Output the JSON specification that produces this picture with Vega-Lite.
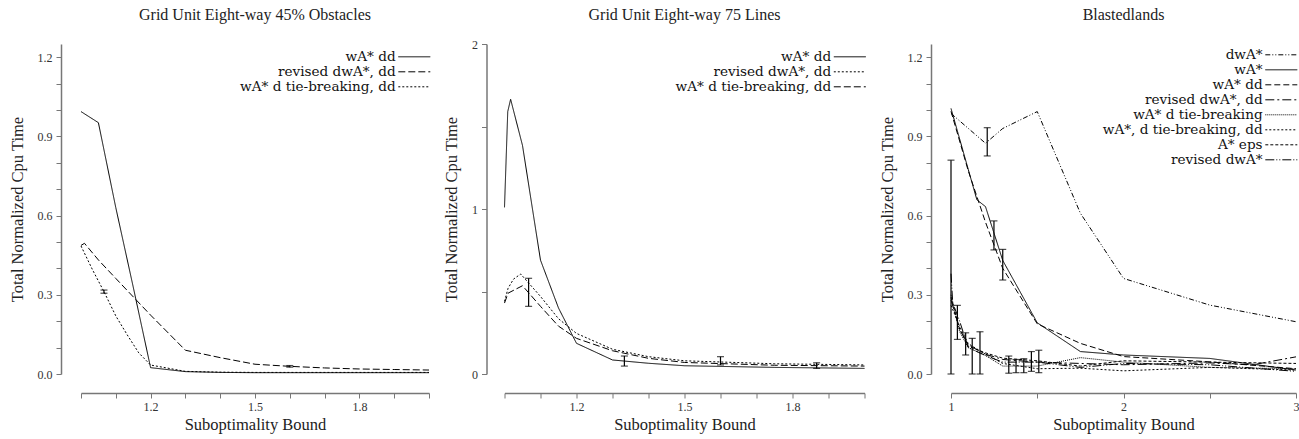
{
  "$schema": "https://vega.github.io/schema/vega-lite/v6.json",
  "padding": {"left": 9, "top": 6, "right": 3, "bottom": 3},
  "spacing": 10.5,
  "config": {
    "font": "Liberation Serif",
    "view": {"stroke": null},
    "axis": {"grid": false, "domainColor": "#777", "domainWidth": 1.5, "tickColor": "#777", "tickSize": 5, "labelFontSize": 12, "labelColor": "#333", "labelFont": "Liberation Serif", "titleFont": "Liberation Serif", "titleFontSize": 16.5, "titleFontWeight": "normal", "titleColor": "#222", "labelOverlap": false, "labelFlush": false},
    "axisY": {"offset": 20, "titlePadding": 12, "labelPadding": 4},
    "axisX": {"offset": 19, "titlePadding": 4, "labelPadding": 3},
    "title": {"font": "Liberation Serif", "fontSize": 16, "fontWeight": "normal", "color": "#222", "offset": 21, "frame": "group"},
    "legend": {"orient": "none", "title": null, "padding": 0, "symbolType": "M-3.2,0H3.2", "symbolSize": 100, "symbolStrokeWidth": 1, "symbolStrokeColor": "black", "labelAlign": "right", "labelOffset": -25.5, "labelFont": "DejaVu Serif", "labelFontSize": 13.6, "labelColor": "#111", "labelLimit": 400, "rowPadding": 0}
  },
  "resolve": {"scale": {"strokeDash": "independent"}, "legend": {"strokeDash": "independent"}},
  "datasets": {
    "p1": [
      {"s": "wA* dd", "x": 1.0, "y": 0.994}, {"s": "wA* dd", "x": 1.05, "y": 0.952}, {"s": "wA* dd", "x": 1.1, "y": 0.63}, {"s": "wA* dd", "x": 1.15, "y": 0.33}, {"s": "wA* dd", "x": 1.2, "y": 0.024}, {"s": "wA* dd", "x": 1.3, "y": 0.009}, {"s": "wA* dd", "x": 1.4, "y": 0.006}, {"s": "wA* dd", "x": 1.5, "y": 0.005}, {"s": "wA* dd", "x": 1.6, "y": 0.005}, {"s": "wA* dd", "x": 1.7, "y": 0.005}, {"s": "wA* dd", "x": 1.8, "y": 0.005}, {"s": "wA* dd", "x": 1.9, "y": 0.005}, {"s": "wA* dd", "x": 2.0, "y": 0.005},
      {"s": "revised dwA*, dd", "x": 1.0, "y": 0.487}, {"s": "revised dwA*, dd", "x": 1.01, "y": 0.495}, {"s": "revised dwA*, dd", "x": 1.05, "y": 0.432}, {"s": "revised dwA*, dd", "x": 1.1, "y": 0.362}, {"s": "revised dwA*, dd", "x": 1.2, "y": 0.223}, {"s": "revised dwA*, dd", "x": 1.3, "y": 0.09}, {"s": "revised dwA*, dd", "x": 1.4, "y": 0.062}, {"s": "revised dwA*, dd", "x": 1.5, "y": 0.037}, {"s": "revised dwA*, dd", "x": 1.6, "y": 0.029}, {"s": "revised dwA*, dd", "x": 1.7, "y": 0.023}, {"s": "revised dwA*, dd", "x": 1.8, "y": 0.019}, {"s": "revised dwA*, dd", "x": 1.9, "y": 0.017}, {"s": "revised dwA*, dd", "x": 2.0, "y": 0.015},
      {"s": "wA* d tie-breaking, dd", "x": 1.0, "y": 0.485}, {"s": "wA* d tie-breaking, dd", "x": 1.033, "y": 0.395}, {"s": "wA* d tie-breaking, dd", "x": 1.066, "y": 0.312}, {"s": "wA* d tie-breaking, dd", "x": 1.1, "y": 0.22}, {"s": "wA* d tie-breaking, dd", "x": 1.133, "y": 0.148}, {"s": "wA* d tie-breaking, dd", "x": 1.166, "y": 0.08}, {"s": "wA* d tie-breaking, dd", "x": 1.2, "y": 0.034}, {"s": "wA* d tie-breaking, dd", "x": 1.3, "y": 0.01}, {"s": "wA* d tie-breaking, dd", "x": 1.4, "y": 0.007}, {"s": "wA* d tie-breaking, dd", "x": 1.5, "y": 0.006}, {"s": "wA* d tie-breaking, dd", "x": 1.6, "y": 0.006}, {"s": "wA* d tie-breaking, dd", "x": 1.8, "y": 0.006}, {"s": "wA* d tie-breaking, dd", "x": 2.0, "y": 0.006}
    ],
    "e1": [{"x": 1.066, "lo": 0.306, "hi": 0.318}, {"x": 1.6, "lo": 0.026, "hi": 0.032}],
    "p2": [
      {"s": "wA* dd", "x": 1.0, "y": 1.01}, {"s": "wA* dd", "x": 1.009, "y": 1.59}, {"s": "wA* dd", "x": 1.017, "y": 1.665}, {"s": "wA* dd", "x": 1.05, "y": 1.385}, {"s": "wA* dd", "x": 1.1, "y": 0.69}, {"s": "wA* dd", "x": 1.15, "y": 0.4}, {"s": "wA* dd", "x": 1.2, "y": 0.186}, {"s": "wA* dd", "x": 1.3, "y": 0.085}, {"s": "wA* dd", "x": 1.4, "y": 0.065}, {"s": "wA* dd", "x": 1.5, "y": 0.05}, {"s": "wA* dd", "x": 1.75, "y": 0.04}, {"s": "wA* dd", "x": 2.0, "y": 0.034},
      {"s": "revised dwA*, dd", "x": 1.0, "y": 0.44}, {"s": "revised dwA*, dd", "x": 1.01, "y": 0.52}, {"s": "revised dwA*, dd", "x": 1.025, "y": 0.575}, {"s": "revised dwA*, dd", "x": 1.045, "y": 0.606}, {"s": "revised dwA*, dd", "x": 1.1, "y": 0.47}, {"s": "revised dwA*, dd", "x": 1.15, "y": 0.335}, {"s": "revised dwA*, dd", "x": 1.2, "y": 0.246}, {"s": "revised dwA*, dd", "x": 1.3, "y": 0.15}, {"s": "revised dwA*, dd", "x": 1.4, "y": 0.105}, {"s": "revised dwA*, dd", "x": 1.5, "y": 0.08}, {"s": "revised dwA*, dd", "x": 1.75, "y": 0.062}, {"s": "revised dwA*, dd", "x": 2.0, "y": 0.055},
      {"s": "wA* d tie-breaking, dd", "x": 1.0, "y": 0.43}, {"s": "wA* d tie-breaking, dd", "x": 1.01, "y": 0.49}, {"s": "wA* d tie-breaking, dd", "x": 1.05, "y": 0.535}, {"s": "wA* d tie-breaking, dd", "x": 1.1, "y": 0.41}, {"s": "wA* d tie-breaking, dd", "x": 1.15, "y": 0.29}, {"s": "wA* d tie-breaking, dd", "x": 1.2, "y": 0.216}, {"s": "wA* d tie-breaking, dd", "x": 1.3, "y": 0.141}, {"s": "wA* d tie-breaking, dd", "x": 1.4, "y": 0.095}, {"s": "wA* d tie-breaking, dd", "x": 1.5, "y": 0.07}, {"s": "wA* d tie-breaking, dd", "x": 1.75, "y": 0.053}, {"s": "wA* d tie-breaking, dd", "x": 2.0, "y": 0.048}
    ],
    "e2": [{"x": 1.067, "lo": 0.41, "hi": 0.58}, {"x": 1.333, "lo": 0.048, "hi": 0.109}, {"x": 1.6, "lo": 0.055, "hi": 0.105}, {"x": 1.867, "lo": 0.034, "hi": 0.068}],
    "p3": [
      {"s": "dwA*", "x": 1.0, "y": 0.987}, {"s": "dwA*", "x": 1.2, "y": 0.874}, {"s": "dwA*", "x": 1.3, "y": 0.93}, {"s": "dwA*", "x": 1.5, "y": 0.994}, {"s": "dwA*", "x": 1.75, "y": 0.609}, {"s": "dwA*", "x": 2.0, "y": 0.362}, {"s": "dwA*", "x": 2.5, "y": 0.261}, {"s": "dwA*", "x": 3.0, "y": 0.198},
      {"s": "wA*", "x": 1.0, "y": 1.006}, {"s": "wA*", "x": 1.1, "y": 0.775}, {"s": "wA*", "x": 1.15, "y": 0.66}, {"s": "wA*", "x": 1.2, "y": 0.634}, {"s": "wA*", "x": 1.3, "y": 0.43}, {"s": "wA*", "x": 1.5, "y": 0.194}, {"s": "wA*", "x": 1.75, "y": 0.085}, {"s": "wA*", "x": 2.0, "y": 0.072}, {"s": "wA*", "x": 2.5, "y": 0.059}, {"s": "wA*", "x": 3.0, "y": 0.015},
      {"s": "wA* dd", "x": 1.0, "y": 0.995}, {"s": "wA* dd", "x": 1.1, "y": 0.77}, {"s": "wA* dd", "x": 1.2, "y": 0.575}, {"s": "wA* dd", "x": 1.3, "y": 0.4}, {"s": "wA* dd", "x": 1.5, "y": 0.19}, {"s": "wA* dd", "x": 1.75, "y": 0.116}, {"s": "wA* dd", "x": 2.0, "y": 0.066}, {"s": "wA* dd", "x": 2.5, "y": 0.046}, {"s": "wA* dd", "x": 3.0, "y": 0.02},
      {"s": "revised dwA*, dd", "x": 1.0, "y": 0.28}, {"s": "revised dwA*, dd", "x": 1.05, "y": 0.17}, {"s": "revised dwA*, dd", "x": 1.1, "y": 0.11}, {"s": "revised dwA*, dd", "x": 1.2, "y": 0.075}, {"s": "revised dwA*, dd", "x": 1.3, "y": 0.055}, {"s": "revised dwA*, dd", "x": 1.5, "y": 0.045}, {"s": "revised dwA*, dd", "x": 1.75, "y": 0.04}, {"s": "revised dwA*, dd", "x": 2.0, "y": 0.035}, {"s": "revised dwA*, dd", "x": 2.5, "y": 0.042}, {"s": "revised dwA*, dd", "x": 2.75, "y": 0.035}, {"s": "revised dwA*, dd", "x": 3.0, "y": 0.065},
      {"s": "wA* d tie-breaking", "x": 1.0, "y": 0.3}, {"s": "wA* d tie-breaking", "x": 1.05, "y": 0.16}, {"s": "wA* d tie-breaking", "x": 1.1, "y": 0.1}, {"s": "wA* d tie-breaking", "x": 1.2, "y": 0.07}, {"s": "wA* d tie-breaking", "x": 1.3, "y": 0.03}, {"s": "wA* d tie-breaking", "x": 1.5, "y": 0.03}, {"s": "wA* d tie-breaking", "x": 1.75, "y": 0.062}, {"s": "wA* d tie-breaking", "x": 2.0, "y": 0.045}, {"s": "wA* d tie-breaking", "x": 2.5, "y": 0.025}, {"s": "wA* d tie-breaking", "x": 3.0, "y": 0.02},
      {"s": "wA*, d tie-breaking, dd", "x": 1.0, "y": 0.26}, {"s": "wA*, d tie-breaking, dd", "x": 1.05, "y": 0.18}, {"s": "wA*, d tie-breaking, dd", "x": 1.1, "y": 0.115}, {"s": "wA*, d tie-breaking, dd", "x": 1.2, "y": 0.075}, {"s": "wA*, d tie-breaking, dd", "x": 1.3, "y": 0.04}, {"s": "wA*, d tie-breaking, dd", "x": 1.5, "y": 0.02}, {"s": "wA*, d tie-breaking, dd", "x": 1.75, "y": 0.022}, {"s": "wA*, d tie-breaking, dd", "x": 2.0, "y": 0.012}, {"s": "wA*, d tie-breaking, dd", "x": 2.5, "y": 0.025}, {"s": "wA*, d tie-breaking, dd", "x": 3.0, "y": 0.015},
      {"s": "A* eps", "x": 1.0, "y": 0.29}, {"s": "A* eps", "x": 1.05, "y": 0.17}, {"s": "A* eps", "x": 1.1, "y": 0.105}, {"s": "A* eps", "x": 1.2, "y": 0.08}, {"s": "A* eps", "x": 1.3, "y": 0.06}, {"s": "A* eps", "x": 1.5, "y": 0.05}, {"s": "A* eps", "x": 1.75, "y": 0.03}, {"s": "A* eps", "x": 2.0, "y": 0.05}, {"s": "A* eps", "x": 2.5, "y": 0.045}, {"s": "A* eps", "x": 3.0, "y": 0.04},
      {"s": "revised dwA*", "x": 1.0, "y": 0.38}, {"s": "revised dwA*", "x": 1.01, "y": 0.27}, {"s": "revised dwA*", "x": 1.05, "y": 0.2}, {"s": "revised dwA*", "x": 1.1, "y": 0.1}, {"s": "revised dwA*", "x": 1.2, "y": 0.07}, {"s": "revised dwA*", "x": 1.3, "y": 0.045}, {"s": "revised dwA*", "x": 1.5, "y": 0.045}, {"s": "revised dwA*", "x": 1.75, "y": 0.025}, {"s": "revised dwA*", "x": 2.0, "y": 0.04}, {"s": "revised dwA*", "x": 2.5, "y": 0.035}, {"s": "revised dwA*", "x": 3.0, "y": 0.01}
    ],
    "e3": [{"x": 1.0, "lo": 0, "hi": 0.81}, {"x": 1.21, "lo": 0.826, "hi": 0.933}, {"x": 1.249, "lo": 0.47, "hi": 0.58}, {"x": 1.3, "lo": 0.356, "hi": 0.472}, {"x": 1.037, "lo": 0.131, "hi": 0.26}, {"x": 1.085, "lo": 0.072, "hi": 0.156}, {"x": 1.123, "lo": 0, "hi": 0.135}, {"x": 1.168, "lo": 0, "hi": 0.16}, {"x": 1.335, "lo": 0.003, "hi": 0.068}, {"x": 1.377, "lo": 0.005, "hi": 0.055}, {"x": 1.422, "lo": 0.005, "hi": 0.058}, {"x": 1.466, "lo": 0.01, "hi": 0.085}, {"x": 1.509, "lo": 0.005, "hi": 0.09}]
  },
  "hconcat": [
    {
      "width": 348, "height": 330,
      "title": {"text": "Grid Unit Eight-way 45% Obstacles"},
      "layer": [
        {
          "data": {"name": "p1"},
          "mark": {"type": "line", "color": "black", "strokeWidth": 1},
          "encoding": {
            "x": {"field": "x", "type": "quantitative", "title": "Suboptimality Bound", "scale": {"domain": [1, 2], "nice": false, "zero": false}, "axis": {"values": [1, 1.1, 1.2, 1.3, 1.4, 1.5, 1.6, 1.7, 1.8, 1.9, 2], "labelOverlap": false, "labelExpr": "round(datum.value*10)%3==0 ? format(datum.value,'.1f') : ''"}},
            "y": {"field": "y", "type": "quantitative", "title": "Total Normalized Cpu Time", "scale": {"domain": [0, 1.25], "nice": false}, "axis": {"values": [0, 0.1, 0.2, 0.3, 0.4, 0.5, 0.6, 0.7, 0.8, 0.9, 1, 1.1, 1.2], "labelOverlap": false, "labelExpr": "round(datum.value*10)%3==0 ? format(datum.value,'.1f') : ''"}},
            "strokeDash": {"field": "s", "type": "nominal", "scale": {"domain": ["wA* dd", "revised dwA*, dd", "wA* d tie-breaking, dd"], "range": [[1, 0], [7, 3], [2, 2]]}, "legend": {"legendX": 326.5, "legendY": 6}}
          }
        },
        {
          "data": {"name": "e1"},
          "mark": {"type": "errorbar", "ticks": {"size": 7}, "color": "black", "thickness": 1.2},
          "encoding": {
            "x": {"field": "x", "type": "quantitative", "title": "Suboptimality Bound", "axis": {"values": [1, 1.1, 1.2, 1.3, 1.4, 1.5, 1.6, 1.7, 1.8, 1.9, 2], "labelOverlap": false, "labelExpr": "round(datum.value*10)%3==0 ? format(datum.value,'.1f') : ''"}},
            "y": {"field": "lo", "type": "quantitative", "title": "Total Normalized Cpu Time", "axis": {"values": [0, 0.1, 0.2, 0.3, 0.4, 0.5, 0.6, 0.7, 0.8, 0.9, 1, 1.1, 1.2], "labelOverlap": false, "labelExpr": "round(datum.value*10)%3==0 ? format(datum.value,'.1f') : ''"}},
            "y2": {"field": "hi"}
          }
        }
      ]
    },
    {
      "width": 360, "height": 330,
      "title": {"text": "Grid Unit Eight-way 75 Lines", "offset": 15.5},
      "layer": [
        {
          "data": {"name": "p2"},
          "mark": {"type": "line", "color": "black", "strokeWidth": 1},
          "encoding": {
            "x": {"field": "x", "type": "quantitative", "title": "Suboptimality Bound", "scale": {"domain": [1, 2], "nice": false, "zero": false}, "axis": {"values": [1, 1.1, 1.2, 1.3, 1.4, 1.5, 1.6, 1.7, 1.8, 1.9, 2], "labelOverlap": false, "labelExpr": "round(datum.value*10)%3==0 ? format(datum.value,'.1f') : ''"}},
            "y": {"field": "y", "type": "quantitative", "title": "Total Normalized Cpu Time", "scale": {"domain": [0, 2], "nice": false}, "axis": {"values": [0, 0.5, 1, 1.5, 2], "labelOverlap": false, "labelExpr": "datum.value%1==0 ? format(datum.value,'d') : ''", "offset": 18}},
            "strokeDash": {"field": "s", "type": "nominal", "scale": {"domain": ["wA* dd", "revised dwA*, dd", "wA* d tie-breaking, dd"], "range": [[1, 0], [2, 2], [7, 3]]}, "legend": {"legendX": 338.5, "legendY": 6}}
          }
        },
        {
          "data": {"name": "e2"},
          "mark": {"type": "errorbar", "ticks": {"size": 7}, "color": "black", "thickness": 1.2},
          "encoding": {
            "x": {"field": "x", "type": "quantitative", "title": "Suboptimality Bound", "axis": {"values": [1, 1.1, 1.2, 1.3, 1.4, 1.5, 1.6, 1.7, 1.8, 1.9, 2], "labelOverlap": false, "labelExpr": "round(datum.value*10)%3==0 ? format(datum.value,'.1f') : ''"}},
            "y": {"field": "lo", "type": "quantitative", "title": "Total Normalized Cpu Time", "axis": {"values": [0, 0.5, 1, 1.5, 2], "labelOverlap": false, "labelExpr": "datum.value%1==0 ? format(datum.value,'d') : ''", "offset": 18}},
            "y2": {"field": "hi"}
          }
        }
      ]
    },
    {
      "width": 345, "height": 330,
      "title": {"text": "Blastedlands"},
      "layer": [
        {
          "data": {"name": "p3"},
          "mark": {"type": "line", "color": "black", "strokeWidth": 1},
          "encoding": {
            "x": {"field": "x", "type": "quantitative", "title": "Suboptimality Bound", "scale": {"domain": [1, 3], "nice": false, "zero": false}, "axis": {"values": [1, 1.5, 2, 2.5, 3], "labelOverlap": false, "labelExpr": "datum.value%1==0 ? format(datum.value,'d') : ''"}},
            "y": {"field": "y", "type": "quantitative", "title": "Total Normalized Cpu Time", "scale": {"domain": [0, 1.25], "nice": false}, "axis": {"values": [0, 0.1, 0.2, 0.3, 0.4, 0.5, 0.6, 0.7, 0.8, 0.9, 1, 1.1, 1.2], "labelOverlap": false, "labelExpr": "round(datum.value*10)%3==0 ? format(datum.value,'.1f') : ''"}},
            "strokeDash": {"field": "s", "type": "nominal", "scale": {"domain": ["dwA*", "wA*", "wA* dd", "revised dwA*, dd", "wA* d tie-breaking", "wA*, d tie-breaking, dd", "A* eps", "revised dwA*"], "range": [[5, 2, 1, 2, 1, 2], [1, 0], [6, 3], [9, 3, 2, 3], [1, 1], [2, 2], [3, 2], [9, 2, 1, 2, 1, 2]]}, "legend": {"legendX": 323.5, "legendY": 4}}
          }
        },
        {
          "data": {"name": "e3"},
          "mark": {"type": "errorbar", "ticks": {"size": 7}, "color": "black", "thickness": 1.2},
          "encoding": {
            "x": {"field": "x", "type": "quantitative", "title": "Suboptimality Bound", "axis": {"values": [1, 1.5, 2, 2.5, 3], "labelOverlap": false, "labelExpr": "datum.value%1==0 ? format(datum.value,'d') : ''"}},
            "y": {"field": "lo", "type": "quantitative", "title": "Total Normalized Cpu Time", "axis": {"values": [0, 0.1, 0.2, 0.3, 0.4, 0.5, 0.6, 0.7, 0.8, 0.9, 1, 1.1, 1.2], "labelOverlap": false, "labelExpr": "round(datum.value*10)%3==0 ? format(datum.value,'.1f') : ''"}},
            "y2": {"field": "hi"}
          }
        }
      ]
    }
  ]
}
